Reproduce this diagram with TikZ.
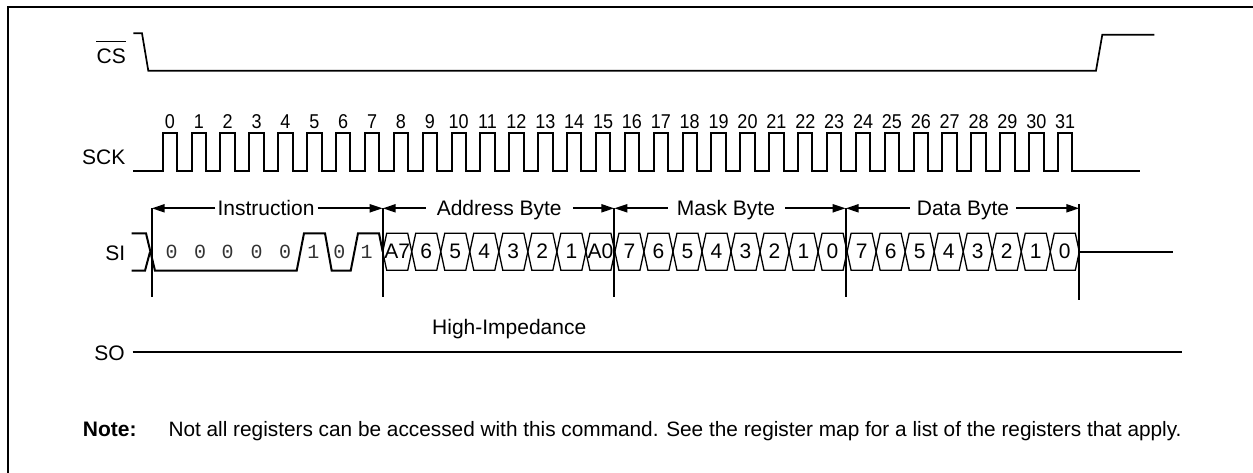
\documentclass[tikz,border=0pt]{standalone}
\usepackage{fontspec}
\setmainfont{Liberation Sans}
\newfontfamily\numfont[FakeStretch=0.9]{Liberation Sans}
\newfontfamily\instrfont{Liberation Mono}
\usetikzlibrary{arrows.meta,calc}
\begin{document}
\begin{tikzpicture}[x=1pt,y=-1pt,
  lbl/.style={font=\fontsize{21}{24}\selectfont, inner sep=0pt},
  numlbl/.style={font=\numfont\fontsize{20}{22}\selectfont, inner sep=0pt, anchor=base},
  bitlbl/.style={font=\instrfont\fontsize{20}{24}\selectfont, inner sep=0pt, anchor=base, text=black!80},
  sig/.style={lbl, anchor=base east},
  wave/.style={line width=2pt, line join=miter},
  cellst/.style={line width=1.3pt, line join=miter},
  marker/.style={line width=2pt},
  arr/.style={line width=2pt, -{Triangle[length=13pt,width=8pt]}},
  bylbl/.style={lbl, text height=15pt, text depth=0pt}
]
\useasboundingbox (0,0) rectangle (1253,473);
% frame (right and bottom edges lie outside the picture)
\draw[line width=2.2pt] (8.3,473) -- (8.3,7.3) -- (1253,7.3);

% signal names
\node[sig, text height=14.7pt] (cs) at (126,63.3) {CS};
\draw[line width=1.3pt] ([yshift=7pt]cs.north west) -- ([yshift=7pt]cs.north east);
\node[sig] (sck) at (125.5,165) {SCK};
\node[sig] (si) at (125.5,260) {SI};
\node[sig] (so) at (125,360.7) {SO};

% CS waveform
\draw[line width=1.7pt, line join=miter] (133.3,33.3) -- (142,33.3) -- (148.3,70.7) -- (1096,70.7) -- (1102.3,34.7) -- (1154.3,34.7);

% SCK waveform
\draw[wave] (133,170.7)
  foreach \k in {0,...,31} { -- ({162.7+28.88*\k},170.7) -- ++(0,-37.4) -- ++(14.4,0) -- ++(0,37.4) }
  -- (1140,170.7);
\foreach \k in {0,...,31}
  \node[numlbl] (n\k) at ({162.7+28.88*\k+7.2},128.3) {\k};

% byte boundaries
\coordinate (b0) at (151.7,0);
\coordinate (b1) at (382.7,0);
\coordinate (b2) at (614.3,0);
\coordinate (b3) at (845.7,0);
\coordinate (b4) at (1079.3,0);
\foreach \b in {b0,b1,b2,b3}
  \draw[marker] (\b |- 0,208.3) -- (\b |- 0,296.7);
\draw[marker] (b4 |- 0,204) -- (b4 |- 0,300);

% byte labels and arrows
\node[bylbl] (lI) at (266,208.3) {Instruction};
\node[bylbl] (lA) at (499.2,208.3) {Address Byte};
\node[bylbl] (lM) at (726,208.3) {Mask Byte};
\node[bylbl] (lD) at (963,208.3) {Data Byte};
\draw[arr] ([xshift=-2pt]lI.west) -- (lI.west -| b0);
\draw[arr] ([xshift=3pt]lI.east) -- (lI.east -| b1);
\draw[arr] ([xshift=-11pt]lA.west) -- (lA.west -| b1);
\draw[arr] ([xshift=11pt]lA.east) -- (lA.east -| b2);
\draw[arr] ([xshift=-9pt]lM.west) -- (lM.west -| b2);
\draw[arr] ([xshift=10pt]lM.east) -- (lM.east -| b3);
\draw[arr] ([xshift=-7pt]lD.west) -- (lD.west -| b3);
\draw[arr] ([xshift=7pt]lD.east) -- (lD.east -| b4);

% SI instruction part
\draw[wave] (131.7,233.3) -- (146,233.3) -- (155,270.7) -- (296.7,270.7) -- (304,233.3) -- (325,233.3)
  -- (331.7,270.7) -- (350.7,270.7) -- (358,233.3) -- (379,233.3) -- (382.7,251.7);
\draw[wave] (131.7,270.7) -- (145,270.7) -- (150,252);
\foreach \x/\v [count=\i] in {171.7/0,200/0,227.7/0,256.7/0,285/0,313.3/1,339.3/0,366.7/1}
  \node[bitlbl] (ib\i) at (\x,258.3) {\v};

% SI bus cells
\foreach \lab [count=\i from 0] in {A7,6,5,4,3,2,1,A0,7,6,5,4,3,2,1,0,7,6,5,4,3,2,1,0} {
  \pgfmathsetmacro\xa{382.7+29.025*\i}
  \draw[cellst] (\xa,251.7) -- ({\xa+4},233.3) -- ({\xa+25.025},233.3) -- ({\xa+29.025},251.7)
    -- ({\xa+25.025},270.3) -- ({\xa+4},270.3) -- cycle;
  \node[lbl, anchor=base] (c\i) at ({\xa+14.5},258.3) {\lab};
}
\coordinate (siend) at (1172.7,251.7);
\draw[wave] (b4 |- siend) -- (siend);

% SO
\coordinate (soend) at (1182,351.7);
\draw[wave] (132.7,351.7) -- (soend);
\node[lbl, anchor=base west] (hz) at (432,334) {High-Impedance};

% note
\node[lbl, anchor=base west, font=\bfseries\fontsize{21}{24}\selectfont] (note) at (82.7,436.7) {Note:};
\node[lbl, anchor=base west, font=\fontsize{20.8}{24}\selectfont] (notetext) at (168.3,436.7) {Not all registers can be accessed with this command. See the register map for a list of the registers that apply.};
\end{tikzpicture}
\end{document}
